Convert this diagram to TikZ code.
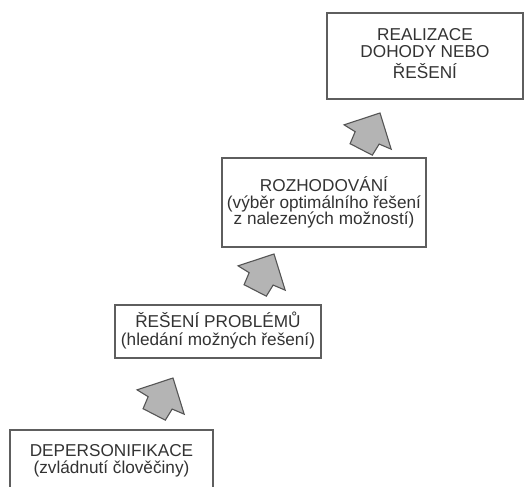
\documentclass[tikz,border=0pt]{standalone}
\usepackage{fontspec}
\setmainfont{Liberation Sans}
\definecolor{boxline}{HTML}{5E5E5E}
\definecolor{arrline}{HTML}{555555}
\definecolor{arrfill}{HTML}{B4B4B4}
\definecolor{txt}{HTML}{333333}
\newcommand\blockarr[2]{%
  \coordinate (#1) at #2;
  \draw[blockarrow, shift={(#1)}, rotate=62.7]
    (0pt,0pt) -- (-27pt,26.5pt) -- (-28pt,13.5pt) -- (-41pt,12.5pt) --
    (-41pt,-12.5pt) -- (-28pt,-13.5pt) -- (-27pt,-26.5pt) -- cycle;}
\newcommand\lowtext[2]{\raisebox{-#1}{\begin{tabular}{@{}c@{}}#2\end{tabular}}}
\begin{document}
\begin{tikzpicture}[x=1pt,y=-1pt,
  box/.style={draw=boxline, line width=1.2pt, fill=white, inner sep=0pt,
    align=center, text=txt, font=\fontsize{17.2}{16.8}\selectfont},
  blockarrow/.style={draw=arrline, line width=1.1pt, fill=arrfill, line join=miter}]
\useasboundingbox (0,0) rectangle (525,487);
\clip (0,0) rectangle (525,487);
\fill[white] (0,0) rectangle (525,487);
\node[box, minimum width=203pt, minimum height=62pt] (b1) at (111.5,461)
  {DEPERSONIFIKACE\\(zvládnutí člověčiny)};
\node[box, minimum width=206pt, minimum height=53pt] (b2) at (218,331.5)
  {\lowtext{3.5pt}{ŘEŠENÍ PROBLÉMŮ\\(hledání možných řešení)}};
\node[box, minimum width=204pt, minimum height=89pt] (b3) at (324,202.5)
  {ROZHODOVÁNÍ\\(výběr optimálního řešení\\z nalezených možností)};
\node[box, minimum width=196pt, minimum height=86pt] (b4) at (425,56)
  {\lowtext{3.5pt}{REALIZACE\\DOHODY NEBO\\ŘEŠENÍ}};
\blockarr{a1}{(173,378)}
\blockarr{a2}{(274,254)}
\blockarr{a3}{(380,113)}
\end{tikzpicture}
\end{document}
